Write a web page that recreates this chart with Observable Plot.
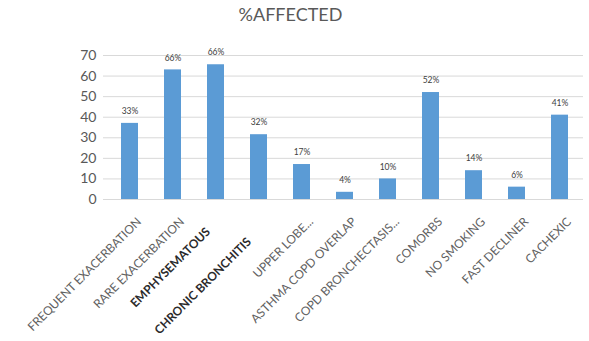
<!DOCTYPE html>
<html>
<head>
<meta charset="utf-8">
<script src="https://cdn.jsdelivr.net/npm/d3@7"></script>
<script src="https://cdn.jsdelivr.net/npm/@observablehq/plot@0.6"></script>
<style>
  html, body { margin: 0; padding: 0; background: #fff; }
  #title { height: 30px; line-height: 28px; font-family: Lato, "Open Sans", sans-serif; font-size: 18px; color: #595959; text-align: center; width: 589px; text-indent: -8px; }
  #chart svg { display: block; font-family: Lato, "Open Sans", sans-serif; }
</style>
</head>
<body>
<div id="title">%AFFECTED</div>
<div id="chart"></div>
<script>
const categories = ["FREQUENT EXACERBATION", "RARE EXACERBATION", "EMPHYSEMATOUS", "CHRONIC BRONCHITIS", "UPPER LOBE...", "ASTHMA COPD OVERLAP", "COPD BRONCHECTASIS...", "COMORBS", "NO SMOKING", "FAST DECLINER", "CACHEXIC"];
const values = [37, 63, 65.5, 31.5, 17, 3.5, 10, 52, 14, 6, 41];
const valueLabels = ["33%", "66%", "66%", "32%", "17%", "4%", "10%", "52%", "14%", "6%", "41%"];
const boldCategories = ["EMPHYSEMATOUS", "CHRONIC BRONCHITIS"];
const yTicks = [0, 10, 20, 30, 40, 50, 60, 70];

const data = categories.map((c, i) => ({cat: c, value: values[i], label: valueLabels[i]}));
const normal = data.filter(d => !boldCategories.includes(d.cat));
const bold1 = data.filter(d => d.cat === boldCategories[0]);
const bold2 = data.filter(d => d.cat === boldCategories[1]);

const boldStyle = {x: "cat", text: "cat", frameAnchor: "bottom", rotate: -45, textAnchor: "end", fontSize: 12, fontWeight: "bold", fill: "#2b2b2b"};

const chart = Plot.plot({
  width: 589,
  height: 311,
  marginLeft: 105,
  marginRight: 6,
  marginTop: 25,
  marginBottom: 142,
  x: {domain: categories, paddingInner: 0.61, paddingOuter: 0.305, axis: null},
  y: {domain: [0, 70], axis: null},
  marks: [
    Plot.gridY(yTicks, {stroke: "#d9d9d9", strokeOpacity: 1, insetLeft: -2}),
    Plot.axisY(yTicks, {label: null, tickSize: 0, tickPadding: 9, fontSize: 14, fill: "#595959", tickFormat: d => d}),
    Plot.barY(data, {x: "cat", y: "value", fill: "#5B9BD5"}),
    Plot.text(data, {x: "cat", y: "value", text: "label", dy: -12, fontSize: 8.5, fill: "#404040"}),
    Plot.text(normal, {x: "cat", text: "cat", frameAnchor: "bottom", rotate: -45, textAnchor: "end", dx: 12, dy: 23, fontSize: 12, fill: "#616161"}),
    Plot.text(bold1, {...boldStyle, dx: -5, dy: 33}),
    Plot.text(bold2, {...boldStyle, dx: -7, dy: 43})
  ]
});
document.getElementById("chart").appendChild(chart);
</script>
</body>
</html>
